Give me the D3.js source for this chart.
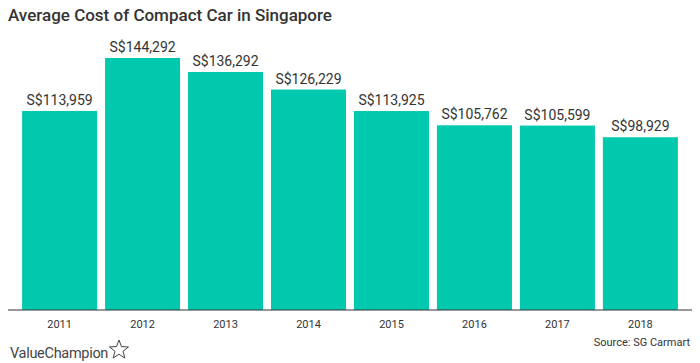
<!DOCTYPE html>
<html>
<head>
<meta charset="utf-8">
<script src="https://cdn.jsdelivr.net/npm/d3@7"></script>
<style>
  body { margin: 0; background: #fff; }
  svg { display: block; font-family: Roboto, "Open Sans", sans-serif; }
</style>
</head>
<body>
<script>
var years = ['2011', '2012', '2013', '2014', '2015', '2016', '2017', '2018'];
var costs = [113959, 144292, 136292, 126229, 113925, 105762, 105599, 98929];
var labels = ['S$113,959', 'S$144,292', 'S$136,292', 'S$126,229', 'S$113,925', 'S$105,762', 'S$105,599', 'S$98,929'];

var width = 700, height = 363;
var baseY = 310;

var svg = d3.select('body').append('svg')
  .attr('width', width)
  .attr('height', height);

svg.append('text')
  .attr('x', 8)
  .attr('y', 21)
  .attr('font-size', 17)
  .attr('font-weight', 500)
  .attr('fill', '#333')
  .text('Average Cost of Compact Car in Singapore');

var x = d3.scaleBand()
  .domain(years)
  .range([8, 692])
  .paddingInner(0.096)
  .paddingOuter(0.17);

var y = d3.scaleLinear()
  .domain([0, 144292])
  .range([baseY, 58]);

svg.selectAll('rect.bar')
  .data(costs)
  .enter().append('rect')
  .attr('class', 'bar')
  .attr('x', function(d, i) { return x(years[i]); })
  .attr('y', function(d) { return y(d); })
  .attr('width', x.bandwidth())
  .attr('height', function(d) { return baseY - y(d); })
  .attr('fill', '#00C9AE');

svg.selectAll('text.val')
  .data(costs)
  .enter().append('text')
  .attr('class', 'val')
  .attr('x', function(d, i) { return x(years[i]) + x.bandwidth() / 2; })
  .attr('y', function(d) { return y(d) - 6; })
  .attr('text-anchor', 'middle')
  .attr('font-size', 14)
  .attr('fill', '#333')
  .text(function(d, i) { return labels[i]; });

var axis = svg.append('g')
  .attr('transform', 'translate(0,' + baseY + ')')
  .call(d3.axisBottom(x).tickSize(0).tickPadding(10));
axis.select('.domain').attr('d', 'M8,0H692').attr('stroke', '#333').attr('stroke-width', 1.2);
axis.selectAll('text')
  .attr('font-size', 11)
  .attr('fill', '#333')
  .attr('font-family', 'Roboto, sans-serif');

svg.append('text')
  .attr('x', 690)
  .attr('y', 346)
  .attr('text-anchor', 'end')
  .attr('font-size', 11)
  .attr('fill', '#333')
  .text('Source: SG Carmart');

svg.append('text')
  .attr('x', 10)
  .attr('y', 358)
  .attr('font-size', 14.5)
  .attr('fill', '#444')
  .attr('letter-spacing', -0.3)
  .text('ValueChampion');

// outline star logo
var cx = 119, cy = 350, ro = 10, ri = 4.2;
var pts = d3.range(10).map(function(k) {
  var r = k % 2 === 0 ? ro : ri;
  var a = -Math.PI / 2 + k * Math.PI / 5;
  return [cx + r * Math.cos(a), cy + r * Math.sin(a)];
});
svg.append('path')
  .attr('d', d3.line()(pts) + 'Z')
  .attr('fill', 'none')
  .attr('stroke', '#444')
  .attr('stroke-width', 1);
</script>
</body>
</html>
